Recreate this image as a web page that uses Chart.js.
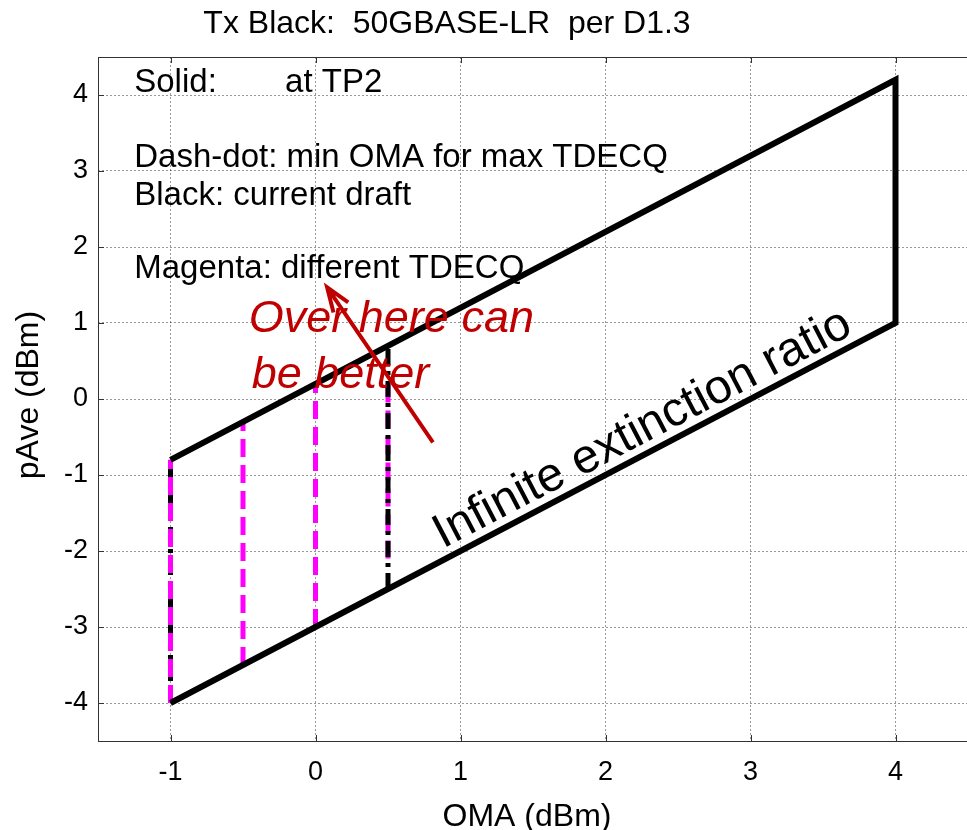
<!DOCTYPE html>
<html>
<head>
<meta charset="utf-8">
<title>Tx Black: 50GBASE-LR per D1.3</title>
<script src="https://cdn.jsdelivr.net/npm/chart.js@4.4.1/dist/chart.umd.min.js"></script>
<style>
html, body { margin: 0; padding: 0; background: #fff; overflow: hidden; }
canvas { display: block; }
</style>
</head>
<body>
<canvas id="txChart" width="980" height="830"></canvas>
<script>
var omaTicks = [-1, 0, 1, 2, 3, 4];
var paveTicks = [-4, -3, -2, -1, 0, 1, 2, 3, 4];

// black solid outline (current draft, at TP2)
var boxOma = [-1, 4, 4, -1];
var boxPave = [-0.8, 4.2, 1, -4];

// magenta dashed verticals (different TDECQ)
var magentaOma = [-1, -0.5, 0, 0.5];
var magentaLow = [-4, -3.5, -3, -2.1];
var magentaHigh = [-0.8, -0.3, 0.2, 0.2];

// black dash-dot verticals (min OMA for max TDECQ)
var dashDotOma = [-1, 0.5];
var dashDotLow = [-4, -2.5];
var dashDotHigh = [-0.8, 0.7];

// red arrow, tail -> head
var arrowTail = [0.81, -0.57];
var arrowHead = [0.08, 1.47];

var FONT = "'Liberation Sans', Arial, sans-serif";

function pts(xs, ys) {
    return xs.map(function (x, i) { return {x: x, y: ys[i]}; });
}

var datasets = [];
datasets.push({
    data: pts(boxOma, boxPave),
    borderColor: '#000',
    borderWidth: 6,
    order: 0
});
dashDotOma.forEach(function (x, i) {
    datasets.push({
        data: [{x: x, y: dashDotLow[i]}, {x: x, y: dashDotHigh[i]}],
        borderColor: '#000',
        borderWidth: 5,
        borderDash: [16, 6, 4, 6],
        order: x < 0 ? 2 : 1
    });
});
magentaOma.forEach(function (x, i) {
    datasets.push({
        data: [{x: x, y: magentaLow[i]}, {x: x, y: magentaHigh[i]}],
        borderColor: '#ff00ff',
        borderWidth: 5,
        borderDash: [18, 8],
        order: x < 0 ? 1 : 2
    });
});
datasets.forEach(function (d) {
    d.showLine = true;
    d.pointRadius = 0;
    d.fill = false;
    d.borderCapStyle = 'butt';
    d.borderJoinStyle = 'miter';
});

var annotate = {
    id: 'annotate',
    afterDraw: function (chart) {
        var ctx = chart.ctx;
        var a = chart.chartArea;
        var xs = chart.scales.x, ys = chart.scales.y;
        function px(v) { return xs.getPixelForValue(v); }
        function py(v) { return ys.getPixelForValue(v); }

        ctx.save();
        // axes box + inward ticks
        ctx.strokeStyle = '#333';
        ctx.lineWidth = 1;
        ctx.setLineDash([]);
        ctx.strokeRect(a.left + 0.5, a.top + 0.5, a.right - a.left, a.bottom - a.top);
        ctx.beginPath();
        omaTicks.forEach(function (v) {
            var x = Math.round(px(v)) + 0.5;
            ctx.moveTo(x, a.bottom); ctx.lineTo(x, a.bottom - 6);
            ctx.moveTo(x, a.top); ctx.lineTo(x, a.top + 6);
        });
        paveTicks.forEach(function (v) {
            var y = Math.round(py(v)) + 0.5;
            ctx.moveTo(a.left, y); ctx.lineTo(a.left + 6, y);
        });
        ctx.stroke();

        // title and axis labels
        ctx.fillStyle = '#000';
        ctx.font = '32px ' + FONT;
        ctx.textAlign = 'center';
        ctx.textBaseline = 'alphabetic';
        ctx.fillText('Tx Black:  50GBASE-LR  per D1.3', 447, 33);
        ctx.fillText('OMA (dBm)', 527, 826);
        ctx.save();
        ctx.translate(38, 395);
        ctx.rotate(-Math.PI / 2);
        ctx.fillText('pAve (dBm)', 0, 0);
        ctx.restore();

        // legend-like notes
        ctx.textAlign = 'left';
        ctx.font = '33px ' + FONT;
        ctx.fillText('Solid:', px(-1.25), py(4.04));
        ctx.fillText('at TP2', px(-0.21), py(4.04));
        ctx.fillText('Dash-dot: min OMA for max TDECQ', px(-1.25), py(3.05));
        ctx.fillText('Black: current draft', px(-1.25), py(2.55));
        ctx.fillText('Magenta: different TDECQ', px(-1.25), py(1.59));

        // infinite extinction ratio label along the lower edge
        var ang = Math.atan2(py(boxPave[2]) - py(boxPave[3]), px(boxOma[2]) - px(boxOma[3]));
        ctx.save();
        ctx.translate(px(0.88), py(-1.97));
        ctx.rotate(ang);
        ctx.font = '48px ' + FONT;
        ctx.fillText('Infinite extinction ratio', 0, 0);
        ctx.restore();

        // red comment and arrow
        ctx.fillStyle = '#c00000';
        ctx.font = 'italic 45px ' + FONT;
        ctx.fillText('Over here can', px(-0.46), py(0.88));
        ctx.fillText('be better', px(-0.44), py(0.145));

        var tx = px(arrowTail[0]), ty = py(arrowTail[1]);
        var hx = px(arrowHead[0]), hy = py(arrowHead[1]);
        var back = Math.atan2(ty - hy, tx - hx);
        ctx.strokeStyle = '#c00000';
        ctx.lineWidth = 4;
        ctx.beginPath();
        ctx.moveTo(tx, ty);
        ctx.lineTo(hx, hy);
        ctx.moveTo(hx + 26 * Math.cos(back - 0.35), hy + 26 * Math.sin(back - 0.35));
        ctx.lineTo(hx, hy);
        ctx.lineTo(hx + 26 * Math.cos(back + 0.35), hy + 26 * Math.sin(back + 0.35));
        ctx.stroke();
        ctx.restore();
    }
};

var ctx = document.getElementById('txChart');
var txChart = new Chart(ctx, {
    type: 'scatter',
    data: { datasets: datasets },
    options: {
        responsive: false,
        devicePixelRatio: 1,
        animation: false,
        layout: { padding: { left: 0, right: 12, top: 57, bottom: 0 } },
        plugins: {
            legend: { display: false },
            tooltip: { enabled: false },
            title: { display: false }
        },
        scales: {
            x: {
                type: 'linear',
                min: -1.5,
                max: 4.5,
                afterBuildTicks: function (s) { s.ticks = omaTicks.map(function (v) { return {value: v}; }); },
                afterFit: function (s) { s.height = 89; },
                grid: { color: 'rgba(0,0,0,0.4)', lineWidth: 1, drawTicks: false },
                border: { display: false, dash: [2, 2] },
                ticks: { color: '#000', font: { family: FONT, size: 27 }, padding: 15, maxRotation: 0, autoSkip: false }
            },
            y: {
                type: 'linear',
                min: -4.5,
                max: 4.5,
                afterBuildTicks: function (s) { s.ticks = paveTicks.map(function (v) { return {value: v}; }); },
                afterFit: function (s) { s.width = 98; },
                grid: { color: 'rgba(0,0,0,0.4)', lineWidth: 1, drawTicks: false },
                border: { display: false, dash: [2, 2] },
                ticks: { color: '#000', font: { family: FONT, size: 27 }, padding: 10, autoSkip: false }
            }
        }
    },
    plugins: [annotate]
});
</script>
</body>
</html>
